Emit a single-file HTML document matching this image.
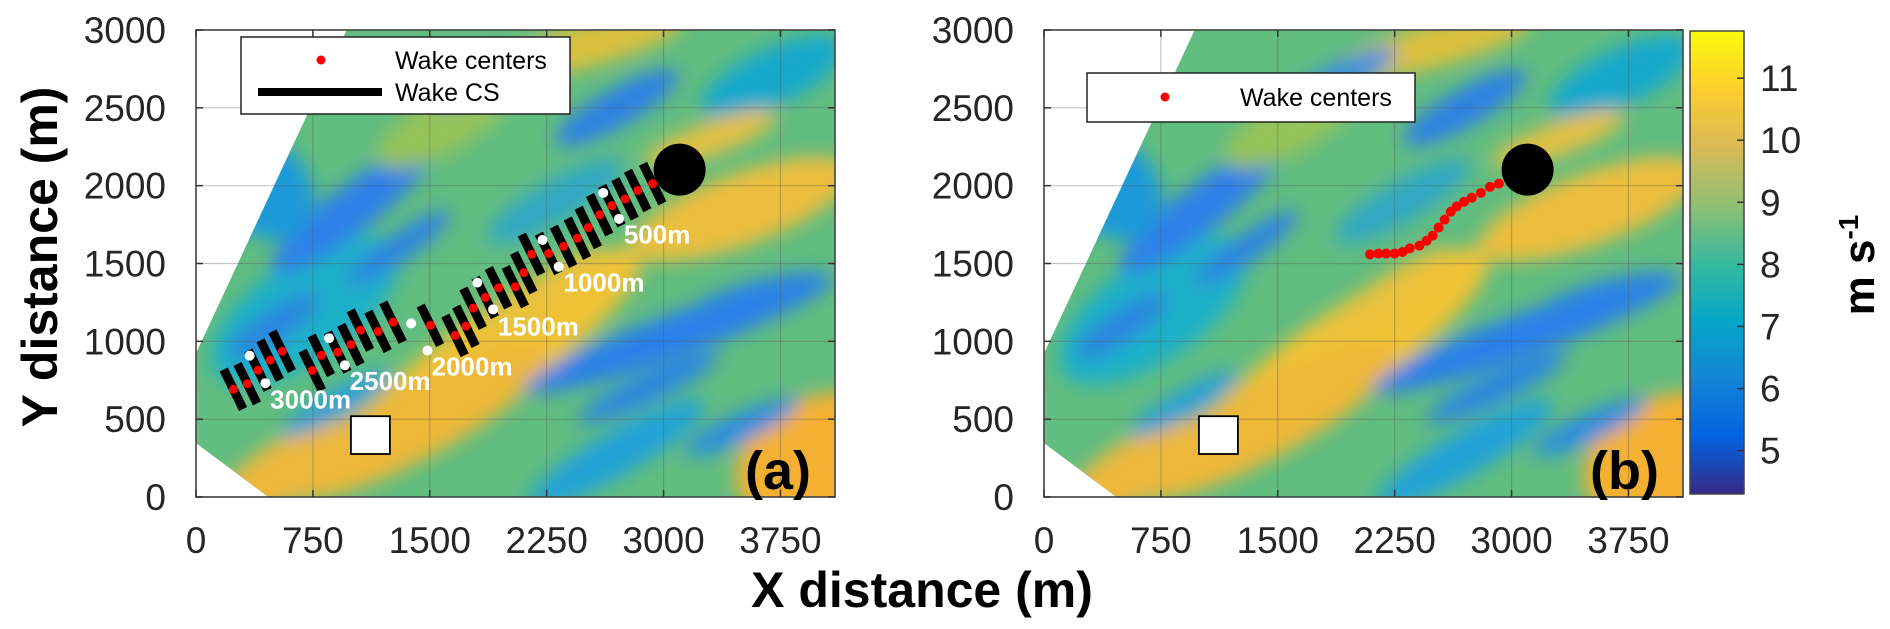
<!DOCTYPE html>
<html><head><meta charset="utf-8">
<style>
html,body{margin:0;padding:0;background:#fff;}
svg{display:block;}
text{font-family:"Liberation Sans",sans-serif;}
</style></head>
<body>
<svg id="fig" width="1890" height="629" viewBox="0 0 1890 629" xmlns="http://www.w3.org/2000/svg">
<defs>
  <filter id="blur" x="-20%" y="-20%" width="140%" height="140%"><feGaussianBlur stdDeviation="60"/></filter>
  <linearGradient id="parula" x1="0" y1="1" x2="0" y2="0">
    <stop offset="0" stop-color="#352a87"/>
    <stop offset="0.125" stop-color="#0363e1"/>
    <stop offset="0.25" stop-color="#1485d4"/>
    <stop offset="0.375" stop-color="#06a7c6"/>
    <stop offset="0.5" stop-color="#38b99e"/>
    <stop offset="0.625" stop-color="#92bf73"/>
    <stop offset="0.75" stop-color="#d9ba56"/>
    <stop offset="0.875" stop-color="#fcce2e"/>
    <stop offset="1" stop-color="#f9fb0e"/>
  </linearGradient>
</defs>
</svg>
<script>
// ---- data ----
const xTicks = [0, 750, 1500, 2250, 3000, 3750];
const yTicks = [0, 500, 1000, 1500, 2000, 2500, 3000];
const cbTicks = [5, 6, 7, 8, 9, 10, 11];
const xMax = 4100, yMax = 3000, cbMin = 4.3, cbMax = 11.76;
const turbine = [3103, 2103];
const boxLL = [994, 276], boxUR = [1244, 519];
const wakeAX = [2930,2834,2753,2668,2590,2517,2447,2358,2262,2153,2103,2049,1941,1856,1778,1732,1662,1504,1264,1168,1055,994,909,804,746,553,476,398,329,240];
const wakeAY = [2013,1969,1915,1872,1813,1731,1662,1610,1564,1559,1441,1351,1344,1282,1213,1097,1038,1103,1123,1064,1072,979,931,910,813,936,879,815,728,692];
const wakeBX = [2919,2861,2803,2745,2695,2648,2610,2571,2532,2494,2455,2409,2347,2300,2250,2196,2146,2092];
const wakeBY = [2013,1992,1954,1923,1897,1866,1833,1782,1731,1679,1646,1615,1597,1574,1564,1564,1564,1559];
const whiteX = [2613,2714,2223,2327,1805,1906,1380,1485,854,955,344,445];
const whiteY = [1954,1787,1651,1479,1377,1205,1115,941,1020,846,908,731];
const distLabels = ["500m","1000m","1500m","2000m","2500m","3000m"];
const distLabelX = [2745,2358,1937,1512,986,476];
const distLabelY = [1628,1320,1038,782,687,569];

// ---- layout ----
const NS = "http://www.w3.org/2000/svg";
const svg = document.getElementById('fig');
const T = 30, B = 497, H = B - T, W = 639;
function mk(tag, attrs, parent){ const e=document.createElementNS(NS,tag); for(const k in attrs) e.setAttribute(k,attrs[k]); (parent||svg).appendChild(e); return e; }

function panel(L, letter, isA){
  const sx = v => L + v / xMax * W;
  const sy = v => B - v / yMax * H;
  const g = mk('g', {});
  
  
  const cid = 'clip' + letter;
  const cp = mk('clipPath', {id: cid}, g);
  mk('polygon', {points: [[0,346],[0,923],[967,3000],[xMax,3000],[xMax,0],[464,0]].map(p=>sx(p[0])+','+sy(p[1])).join(' ')}, cp);
  const field = mk('g', {'clip-path': 'url(#' + cid + ')'}, g);
  
  
  mk('rect', {x: L, y: T, width: W, height: H, fill: '#62bd80'}, field);
  const fg = mk('g', {filter: 'url(#blur)', transform: `translate(${L},${B}) scale(${W/xMax},${-H/yMax})`}, field);
  const blobs = [
    [700,1200,700,320,35,'#1fb0c8'],[1000,1850,650,150,38,'#2f80e8'],[400,2000,300,400,50,'#1e9ad8'],
    [1900,900,1150,280,35,'#f0c236'],[1400,480,950,240,28,'#eeb838'],[3950,250,520,380,30,'#f4b030'],
    [3500,1850,750,230,20,'#ecbe3c'],[3100,1050,1050,140,20,'#2a80e8'],[2700,2500,450,120,30,'#2f80e4'],
    [2500,2900,650,140,15,'#dcc03e'],[2700,280,650,140,30,'#22a2d8'],[600,180,500,200,30,'#ecb83e'],
    [1600,2400,500,180,30,'#96c25a'],[3700,2700,500,180,25,'#14a8cc'],[2300,1900,500,130,30,'#30a8c4'],
    [500,1100,350,100,35,'#2b86e0'],[1300,1600,400,90,35,'#2e84e2'],[3600,1300,450,90,15,'#2a82e6'],
    [2900,700,500,90,25,'#2c86e2'],[3300,2300,450,110,20,'#e2c044'],[1900,2700,400,90,25,'#3a8ee0'],
    [2200,1300,500,110,35,'#e9c13c'],[900,600,400,90,30,'#2aa0d4'],[3500,450,400,90,25,'#2a8ce0']
  ];
  blobs.forEach(b=>{ mk('ellipse',{cx:b[0],cy:b[1],rx:b[2],ry:b[3],fill:b[5],transform:`rotate(${b[4]} ${b[0]} ${b[1]})`}, fg); });
  // grid
  xTicks.forEach(t=>{ mk('line',{x1:sx(t),x2:sx(t),y1:T,y2:B,stroke:'#555','stroke-opacity':0.35,'stroke-width':1.2},g); });
  yTicks.forEach(t=>{ mk('line',{x1:L,x2:L+W,y1:sy(t),y2:sy(t),stroke:'#555','stroke-opacity':0.35,'stroke-width':1.2},g); });
  const ax = mk('rect',{x:L,y:T,width:W,height:H,fill:'none',stroke:'#444','stroke-width':1.6},g);
  
  
  xTicks.forEach(t=>{
    mk('line',{x1:sx(t),x2:sx(t),y1:B,y2:B-7,stroke:'#333','stroke-width':1.5},g);
    mk('line',{x1:sx(t),x2:sx(t),y1:T,y2:T+7,stroke:'#333','stroke-width':1.5},g);
    const tx = mk('text',{x:sx(t),y:553,'text-anchor':'middle','font-size':37,fill:'#262626'},g);
    tx.textContent = t;
    
    
  });
  yTicks.forEach(t=>{
    mk('line',{x1:L,x2:L+7,y1:sy(t),y2:sy(t),stroke:'#333','stroke-width':1.5},g);
    mk('line',{x1:L+W,x2:L+W-7,y1:sy(t),y2:sy(t),stroke:'#333','stroke-width':1.5},g);
    const ty = mk('text',{x:L-30,y:sy(t)+13,'text-anchor':'end','font-size':37,fill:'#262626'},g);
    ty.textContent = t;
    
    
  });
  const tb = mk('ellipse',{cx:sx(turbine[0]),cy:sy(turbine[1]),rx:26,ry:26,fill:'#000'},g);
  
  
  const sq = mk('rect',{x:sx(boxLL[0]),y:sy(boxUR[1]),width:sx(boxUR[0])-sx(boxLL[0]),height:sy(boxLL[1])-sy(boxUR[1]),fill:'#fff',stroke:'#000','stroke-width':1.8},g);
  
  

  if(isA){
    // overall wake direction -> perpendicular bars
    const n = wakeAX.length-1;
    let dx = sx(wakeAX[0])-sx(wakeAX[n]), dy = sy(wakeAY[0])-sy(wakeAY[n]);
    const len = Math.hypot(dx,dy); dx/=len; dy/=len;
    const px = -dy, py = dx;
    for(let i=0;i<wakeAX.length;i++){
      const cx = sx(wakeAX[i]), cy = sy(wakeAY[i]);
      const bar = mk('line',{x1:cx+px*22,y1:cy+py*22,x2:cx-px*22,y2:cy-py*22,stroke:'#000','stroke-width':9},g);
      
      
    }
    for(let i=0;i<whiteX.length;i++){
      const w = mk('circle',{cx:sx(whiteX[i]),cy:sy(whiteY[i]),r:5,fill:'#fff'},g);
      
      
    }
    for(let i=0;i<wakeAX.length;i++){
      const d = mk('circle',{cx:sx(wakeAX[i]),cy:sy(wakeAY[i]),r:4.5,fill:'#f00'},g);
      
      
    }
    for(let i=0;i<distLabels.length;i++){
      const t = mk('text',{x:sx(distLabelX[i]),y:sy(distLabelY[i]),'font-size':26,'font-weight':'bold',fill:'#fff'},g);
      t.textContent = distLabels[i];
      
      
    }
    const lg = mk('g',{},g);
    
    
    mk('rect',{x:241,y:37,width:329,height:77,fill:'#fff',stroke:'#222','stroke-width':1.5},lg);
    mk('circle',{cx:321,cy:60,r:4.5,fill:'#f00'},lg);
    const t1 = mk('text',{x:395,y:69,'font-size':25,fill:'#000'},lg); t1.textContent='Wake centers';
    mk('line',{x1:258,x2:382,y1:92,y2:92,stroke:'#000','stroke-width':8},lg);
    const t2 = mk('text',{x:395,y:101,'font-size':25,fill:'#000'},lg); t2.textContent='Wake CS';
  } else {
    for(let i=0;i<wakeBX.length;i++){
      const d = mk('circle',{cx:sx(wakeBX[i]),cy:sy(wakeBY[i]),r:5,fill:'#f00'},g);
      
      
    }
    const lg = mk('g',{},g);
    
    
    mk('rect',{x:1087,y:73,width:328,height:49,fill:'#fff',stroke:'#222','stroke-width':1.5},lg);
    mk('circle',{cx:1165,cy:97,r:4.5,fill:'#f00'},lg);
    const t1 = mk('text',{x:1240,y:106,'font-size':25,fill:'#000'},lg); t1.textContent='Wake centers';
  }
  const pl = mk('text',{x:L+W-24,y:B-8,'text-anchor':'end','font-size':54,'font-weight':'bold',fill:'#000'},g);
  pl.textContent = '(' + letter + ')';
  
  
}
panel(196,'a',true);
panel(1044,'b',false);

// colorbar
const CL = 1690, CT = 31, CB = 494, CW = 54;
const cb = mk('rect',{x:CL,y:CT,width:CW,height:CB-CT,fill:'url(#parula)',stroke:'#444','stroke-width':1.5});


const cy = v => CB - (v-cbMin)/(cbMax-cbMin)*(CB-CT);
cbTicks.forEach(t=>{
  mk('line',{x1:CL+CW,x2:CL+CW-7,y1:cy(t),y2:cy(t),stroke:'#333','stroke-width':1.5});
  const tt = mk('text',{x:1760,y:cy(t)+13,'font-size':37,fill:'#262626'});
  tt.textContent = t;
  
  
});
const cu = mk('text',{x:0,y:0,'font-size':44,'font-weight':'bold',fill:'#000','text-anchor':'middle',transform:'translate(1874,265) rotate(-90)'});
cu.innerHTML = 'm s<tspan dy="-16" font-size="28">-1</tspan>';



const xt = mk('text',{x:922,y:607,'font-size':50,'font-weight':'bold',fill:'#000','text-anchor':'middle'});
xt.textContent = 'X distance (m)';


const yt = mk('text',{x:0,y:0,'font-size':50,'font-weight':'bold',fill:'#000','text-anchor':'middle',transform:'translate(57,257) rotate(-90)'});
yt.textContent = 'Y distance (m)';


</script>
</body></html>
